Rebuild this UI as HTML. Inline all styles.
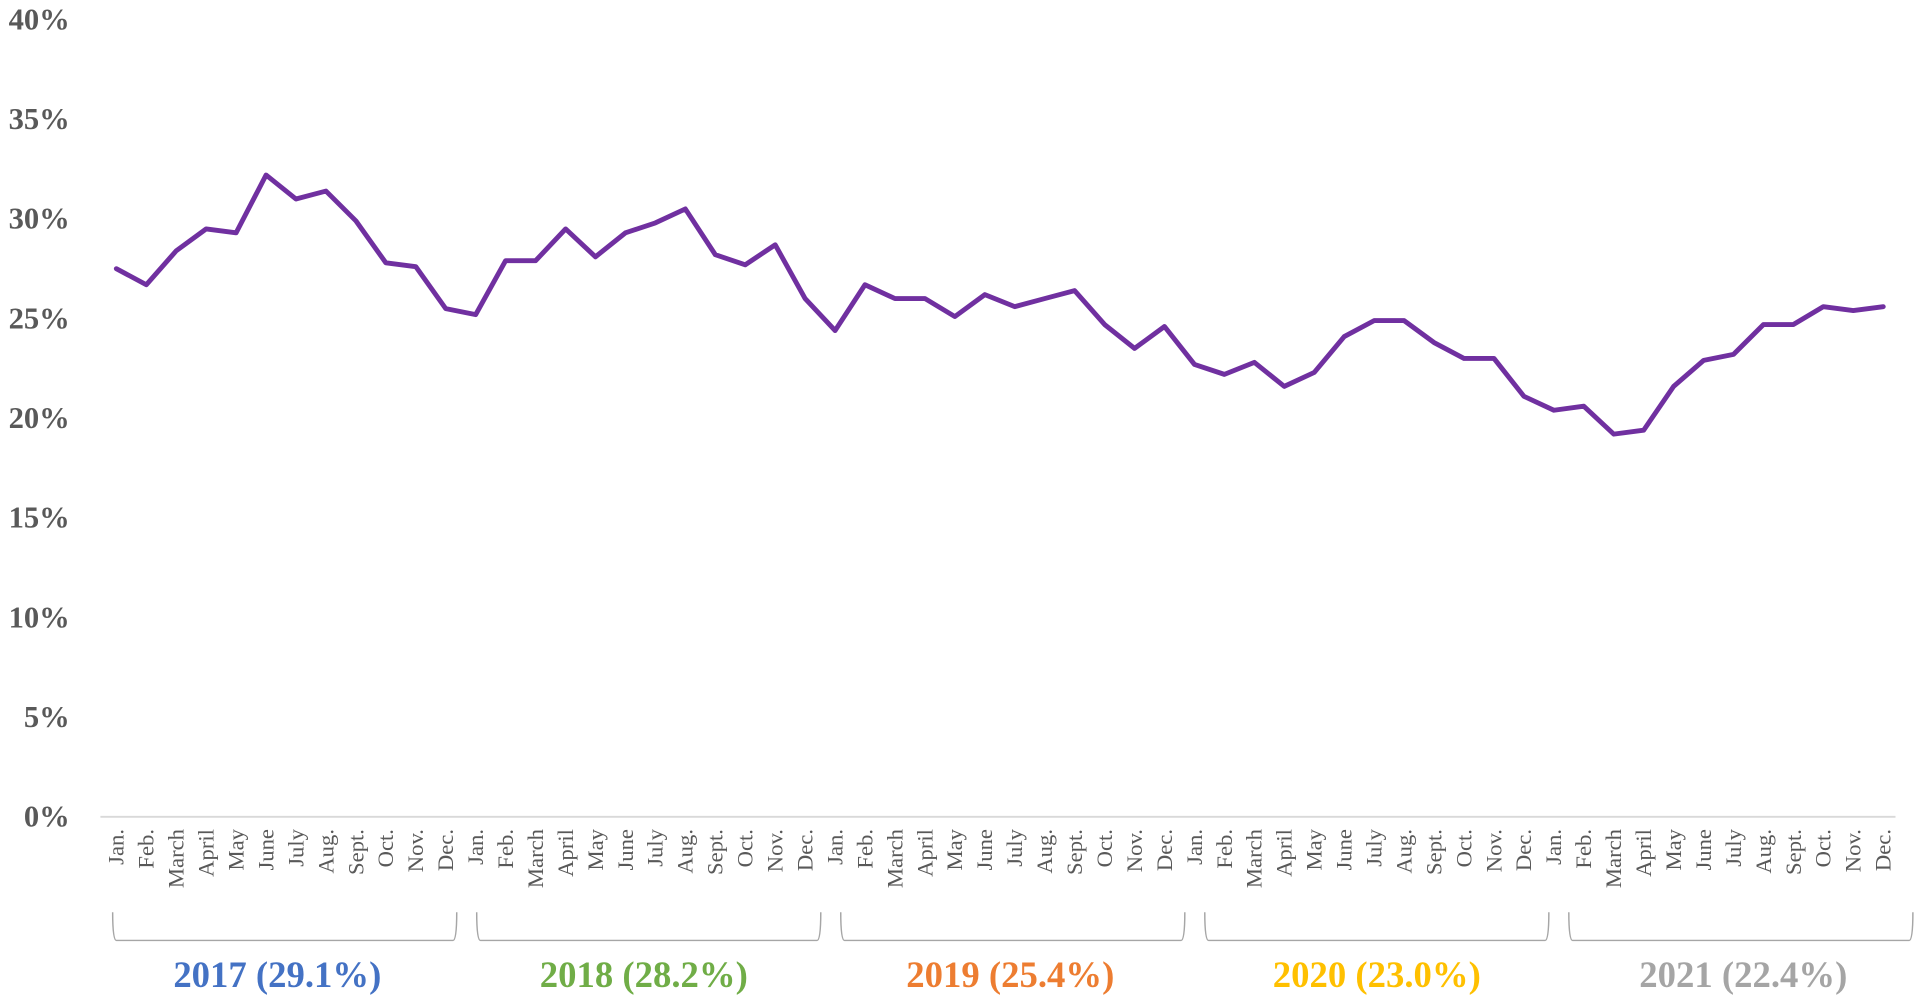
<!DOCTYPE html>
<html><head><meta charset="utf-8"><style>
html,body{margin:0;padding:0;background:#fff;width:1920px;height:1000px;overflow:hidden}
svg{display:block}
</style></head><body>
<svg id="chart" width="1920" height="1000" viewBox="0 0 1568 816.6" xmlns="http://www.w3.org/2000/svg" font-family="'Liberation Serif', serif"></svg>
<script>
const years = ["2017 (29.1%)","2018 (28.2%)","2019 (25.4%)","2020 (23.0%)","2021 (22.4%)"];
const yearColors = ["#4472c4","#70ad47","#ed7d31","#ffc000","#a5a5a5"];
const months = ["Jan.","Feb.","March","April","May","June","July","Aug.","Sept.","Oct.","Nov.","Dec."];
const values2017 = [27.5,26.7,28.4,29.5,29.3,32.2,31.0,31.4,29.9,27.8,27.6,25.5];
const values2018 = [25.2,27.9,27.9,29.5,28.1,29.3,29.8,30.5,28.2,27.7,28.7,26.0];
const values2019 = [24.4,26.7,26.0,26.0,25.1,26.2,25.6,26.0,26.4,24.7,23.5,24.6];
const values2020 = [22.7,22.2,22.8,21.6,22.3,24.1,24.9,24.9,23.8,23.0,23.0,21.1];
const values2021 = [20.4,20.6,19.2,19.4,21.6,22.9,23.2,24.7,24.7,25.6,25.4,25.6];
const yTicks = [0,5,10,15,20,25,30,35,40];

const NS="http://www.w3.org/2000/svg";
const svg=document.getElementById('chart');
const allVals=[].concat(values2017,values2018,values2019,values2020,values2021);
const x0=95, x1=1538, yBase=667, yTop=16;
const xS=i=>x0+i*(x1-x0)/(allVals.length-1);
const yS=v=>yBase-(v/40)*(yBase-yTop);
function mk(t,a){const e=document.createElementNS(NS,t);for(const k in a)e.setAttribute(k,a[k]);svg.appendChild(e);return e;}

yTicks.forEach(t=>{
  const e=mk('text',{x:57,y:yS(t)+8,'text-anchor':'end','font-size':25,'font-weight':'bold',fill:'#595959'});
  e.textContent=t+'%';
  
  
});
const ax=mk('line',{x1:82,x2:1548,y1:yBase,y2:yBase,stroke:'#d9d9d9','stroke-width':1.5});



allVals.forEach((v,i)=>{
  const x=xS(i);
  const e=mk('text',{transform:`translate(${x+6},${yBase+10}) rotate(-90)`,'text-anchor':'end','font-size':18.5,fill:'#595959'});
  e.textContent=months[i%12];
  
  
});

years.forEach((y,k)=>{
  const a=92+k*297.3, b=a+281;
  const br=mk('path',{d:`M${a},745 Q${a},768 ${a+3},768 L${b-3},768 Q${b},768 ${b},745`,fill:'none',stroke:'#a6a6a6','stroke-width':1.2});
  
  
  const t=mk('text',{x:(a+b)/2-6+k*2,y:806,'text-anchor':'middle','font-size':30,'font-weight':'bold',fill:yearColors[k]});
  t.textContent=y;
  
  
});

const pts=allVals.map((v,i)=>xS(i).toFixed(1)+','+yS(v).toFixed(1)).join(' ');
const ln=mk('polyline',{points:pts,fill:'none',stroke:'#7030a0','stroke-width':4,'stroke-linejoin':'round','stroke-linecap':'round'});


</script>
</body></html>
